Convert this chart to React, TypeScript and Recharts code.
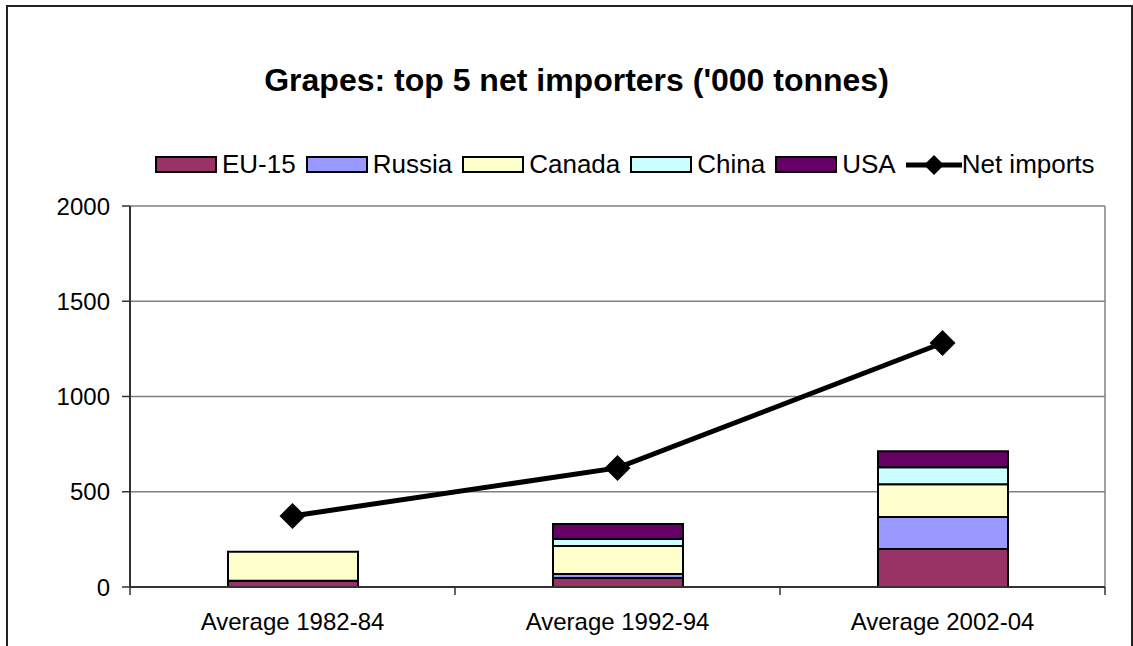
import React from "react";
import { ComposedChart, Bar, Line, XAxis, YAxis, CartesianGrid } from "recharts";

const categories = ["Average 1982-84", "Average 1992-94", "Average 2002-04"];
const eu15 = [33, 47, 199];
const russia = [0, 21, 168];
const canada = [152, 147, 173];
const china = [0, 37, 89];
const usa = [0, 79, 84];
const netImports = [373, 625, 1281];
const yTicks = [0, 500, 1000, 1500, 2000];

const series = [
  { key: "eu15", name: "EU-15", color: "#993366", values: eu15 },
  { key: "russia", name: "Russia", color: "#9999FF", values: russia },
  { key: "canada", name: "Canada", color: "#FFFFCC", values: canada },
  { key: "china", name: "China", color: "#CCFFFF", values: china },
  { key: "usa", name: "USA", color: "#660066", values: usa },
];

const data = categories.map((category, i) => {
  const row: Record<string, string | number> = { category, net: netImports[i] };
  series.forEach((s) => (row[s.key] = s.values[i]));
  return row;
});

const FONT = "'Liberation Sans', Arial, sans-serif";

const Diamond = (props: any) => {
  const { cx, cy } = props;
  if (cx == null || cy == null) return null;
  const r = 13;
  return <path d={`M${cx},${cy - r}L${cx + r},${cy}L${cx},${cy + r}L${cx - r},${cy}Z`} fill="#000" />;
};

// category label plus tick marks on the band edges
const CategoryTick = (props: any) => {
  const { x, y, payload, index, width, visibleTicksCount } = props;
  const half = payload?.offset ?? width / visibleTicksCount / 2;
  const top = y - 26;
  return (
    <g>
      <line x1={x - half} x2={x - half} y1={top} y2={top + 8} stroke="#333" strokeWidth={1.5} />
      {index === visibleTicksCount - 1 && (
        <line x1={x + half} x2={x + half} y1={top} y2={top + 8} stroke="#333" strokeWidth={1.5} />
      )}
      <text x={x} y={y} dy="0.71em" textAnchor="middle" fill="#000" fontSize={24} fontFamily={FONT}>
        {payload.value}
      </text>
    </g>
  );
};

const Legend = () => (
  <div
    style={{
      position: "absolute",
      left: 155,
      top: 149,
      display: "flex",
      alignItems: "center",
      fontFamily: FONT,
      fontSize: 26,
      color: "#000",
      whiteSpace: "nowrap",
    }}
  >
    {series.map((s) => (
      <div key={s.key} style={{ display: "flex", alignItems: "center", marginRight: 10 }}>
        <div style={{ width: 58, height: 13, background: s.color, border: "2px solid #000", marginRight: 5 }} />
        <span>{s.name}</span>
      </div>
    ))}
    <div style={{ display: "flex", alignItems: "center" }}>
      <svg width={56} height={26}>
        <line x1={0} x2={56} y1={13} y2={13} stroke="#000" strokeWidth={5} />
        <path d="M28,3L38,13L28,23L18,13Z" fill="#000" />
      </svg>
      <span>Net imports</span>
    </div>
  </div>
);

export default function App() {
  return (
    <div style={{ position: "absolute", left: 0, top: 0, width: 1133, height: 646, overflow: "hidden", background: "#fff" }}>
      <div
        style={{
          position: "absolute",
          left: 6,
          top: 5,
          width: 1123,
          height: 700,
          border: "2px solid #222",
        }}
      />
      <div
        style={{
          position: "absolute",
          left: 13,
          width: 1127,
          top: 62,
          textAlign: "center",
          fontFamily: FONT,
          fontWeight: "bold",
          fontSize: 32,
          color: "#000",
        }}
      >
        Grapes: top 5 net importers ('000 tonnes)
      </div>
      <Legend />
      <div style={{ position: "absolute", left: 0, top: 0 }}>
        <ComposedChart width={1133} height={646} data={data} margin={{ top: 206, right: 28, bottom: 19, left: 60 }}>
          <CartesianGrid
            stroke="#808080"
            strokeWidth={1.5}
            horizontalValues={yTicks}
            verticalCoordinatesGenerator={({ offset }: any) => [offset.left + offset.width]}
          />
          <XAxis
            dataKey="category"
            tickLine={false}
            tickSize={0}
            tickMargin={26}
            height={40}
            axisLine={{ stroke: "#333", strokeWidth: 2 }}
            tick={<CategoryTick />}
            interval={0}
          />
          <YAxis
            type="number"
            domain={[0, 2000]}
            ticks={yTicks}
            width={70}
            tickSize={8}
            tickMargin={12}
            axisLine={{ stroke: "#333", strokeWidth: 2 }}
            tickLine={{ stroke: "#333", strokeWidth: 1.5 }}
            tick={{ fill: "#000", fontSize: 24, fontFamily: FONT }}
          />
          {series.map((s) => (
            <Bar
              key={s.key}
              dataKey={s.key}
              name={s.name}
              stackId="a"
              fill={s.color}
              stroke="#000"
              strokeWidth={2}
              barSize={130}
              isAnimationActive={false}
            />
          ))}
          <Line
            dataKey="net"
            name="Net imports"
            stroke="#000"
            strokeWidth={5}
            dot={<Diamond />}
            activeDot={false}
            isAnimationActive={false}
          />
        </ComposedChart>
      </div>
    </div>
  );
}
